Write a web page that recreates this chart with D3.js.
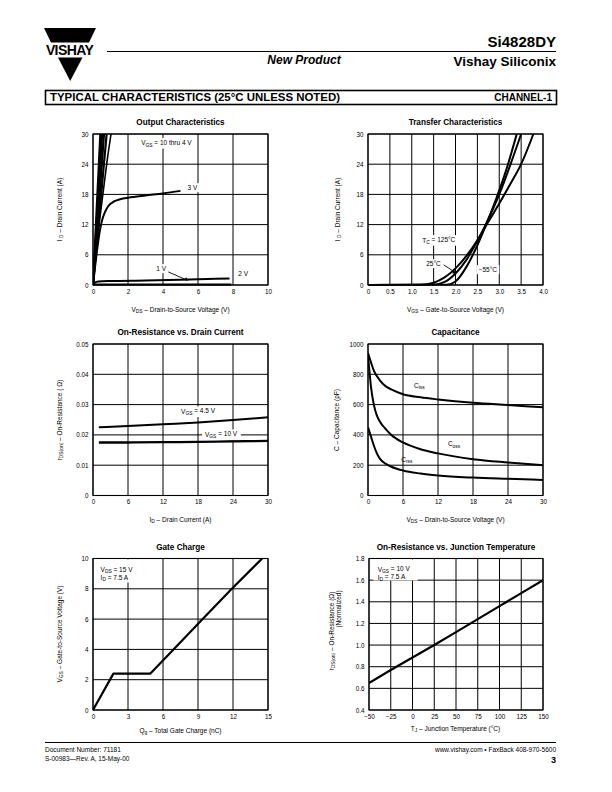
<!DOCTYPE html>
<html><head><meta charset="utf-8">
<script src="https://cdn.jsdelivr.net/npm/d3@7"></script>
<style>
html,body{margin:0;padding:0;background:#fff;}
svg{display:block;font-family:'Liberation Sans',Arial,Helvetica,sans-serif;}
</style></head><body>
<svg id="page" width="612" height="792"></svg>
<script>
// ---------------- DATA ----------------
// Output Characteristics (VDS V, ID A)
const outXTicks = [0, 2, 4, 6, 8, 10];
const outYTicks = [0, 6, 12, 18, 24, 30];
const outVgs10 = [[0, 0], [0.42, 30]];
const outVgs8  = [[0, 0], [0.52, 30]];
const outVgs6  = [[0, 0], [0.63, 30]];
const outVgs5  = [[0, 0], [0.78, 30]];
const outVgs4  = [[0, 0], [0.3, 10.5], [0.6, 19], [0.82, 25], [1.03, 30]];
const outVgs3  = [[0, 0], [0.2, 6], [0.38, 10.5], [0.5, 12.6], [0.7, 14.6], [0.9, 15.8], [1.2, 16.6], [1.6, 17.1], [2, 17.35], [3, 17.8], [4, 18.2], [5, 18.7]];
const outVgs2  = [[0, 0], [0.1, 0.45], [0.3, 0.7], [1, 0.8], [3, 0.9], [5, 1.05], [7.8, 1.3]];
const outVgs1  = [[0, 0.05], [7.9, 0.05]];

// Transfer Characteristics (VGS V, ID A)
const trXTicks = [0, 0.5, 1, 1.5, 2, 2.5, 3, 3.5, 4];
const trXLabels = ["0", "0.5", "1.0", "1.5", "2.0", "2.5", "3.0", "3.5", "4.0"];
const trYTicks = [0, 6, 12, 18, 24, 30];
const tr125 = [[0, 0], [1.2, 0.05], [1.5, 0.45], [1.75, 1.5], [2.0, 3.3], [2.25, 5.8], [2.5, 8.9], [2.7, 11.8], [3.0, 16.2], [3.25, 20], [3.5, 24], [3.78, 30]];
const tr25  = [[0, 0], [1.5, 0.05], [1.75, 0.6], [2.0, 2.3], [2.25, 5], [2.5, 8.8], [2.7, 12.2], [3.0, 18], [3.25, 23.8], [3.5, 30]];
const trM55 = [[0, 0], [1.8, 0.05], [2.0, 0.7], [2.25, 3.6], [2.5, 7.9], [2.7, 12], [3.0, 18.8], [3.2, 24], [3.4, 30]];

// On-Resistance vs. Drain Current (ID A, rDS ohm)
const orXTicks = [0, 6, 12, 18, 24, 30];
const orYTicks = [0, 0.01, 0.02, 0.03, 0.04, 0.05];
const orYLabels = ["0", "0.01", "0.02", "0.03", "0.04", "0.05"];
const orVgs45 = [[1, 0.0225], [6, 0.0229], [12, 0.0235], [18, 0.0241], [24, 0.0249], [30, 0.0258]];
const orVgs10 = [[1, 0.0175], [6, 0.0175], [12, 0.0176], [18, 0.0177], [24, 0.0179], [30, 0.018]];

// Capacitance (VDS V, C pF)
const capXTicks = [0, 6, 12, 18, 24, 30];
const capYTicks = [0, 200, 400, 600, 800, 1000];
const capCiss = [[0, 940], [0.5, 880], [1, 825], [2, 762], [3, 722], [4, 700], [6, 668], [9, 648], [12, 634], [18, 612], [24, 597], [30, 582]];
const capCoss = [[0, 920], [0.25, 820], [0.5, 720], [1, 600], [1.5, 530], [2, 490], [3, 440], [4, 400], [6, 350], [9, 305], [12, 278], [18, 240], [24, 218], [30, 200]];
const capCrss = [[0, 450], [0.5, 390], [1, 330], [1.5, 280], [2, 245], [3, 210], [4, 190], [6, 165], [9, 145], [12, 132], [18, 118], [24, 110], [30, 103]];

// Gate Charge (Qg nC, VGS V)
const gcXTicks = [0, 3, 6, 9, 12, 15];
const gcYTicks = [0, 2, 4, 6, 8, 10];
const gcCurve = [[0, 0], [1.75, 2.4], [4.9, 2.4], [6.9, 4], [9.4, 6], [11.9, 8], [14.5, 10]];

// On-Resistance vs. Junction Temperature (TJ C, normalized)
const tjXTicks = [-50, -25, 0, 25, 50, 75, 100, 125, 150];
const tjXLabels = ["\u221250", "\u221225", "0", "25", "50", "75", "100", "125", "150"];
const tjYTicks = [0.4, 0.6, 0.8, 1.0, 1.2, 1.4, 1.6, 1.8];
const tjYLabels = ["0.4", "0.6", "0.8", "1.0", "1.2", "1.4", "1.6", "1.8"];
const tjCurve = [[-50, 0.65], [-25, 0.77], [0, 0.885], [25, 1.0], [50, 1.12], [75, 1.24], [100, 1.36], [125, 1.48], [150, 1.6]];

// ---------------- DRAWING ----------------
const svg = d3.select('#page');
svg.append('rect').attr('width', 612).attr('height', 792).attr('fill', '#fff');

// rich text helper: parts = [[text, 'sub'?], ...]
function rich(parent, x, y, parts, o = {}) {
  const t = parent.append('text').attr('x', x).attr('y', y)
    .attr('font-size', o.size || 6.5).attr('text-anchor', o.anchor || 'start')
    .attr('fill', '#000');
  if (o.weight) t.attr('font-weight', o.weight);
  if (o.rotate) t.attr('transform', `rotate(-90,${x},${y})`);
  let sub = false;
  parts.forEach(p => {
    const s = t.append('tspan').text(p[0]);
    const isSub = p[1] === 'sub';
    if (isSub && !sub) s.attr('dy', '0.25em');
    if (!isSub && sub) s.attr('dy', '-0.25em');
    if (isSub) s.attr('font-size', '0.75em');
    sub = isSub;
  });
  if (o.box) {
    const b = t.node().getBBox();
    parent.insert('rect', () => t.node())
      .attr('x', b.x - o.box).attr('y', b.y - 1).attr('width', b.width + 2 * o.box)
      .attr('height', b.height + 2).attr('fill', '#fff');
  }
  return t;
}

let clipId = 0;
function chart(c) {
  const x = d3.scaleLinear().domain(c.xDomain).range([c.x0, c.x1]);
  const y = d3.scaleLinear().domain(c.yDomain).range([c.y1, c.y0]);
  const g = svg.append('g');
  // grid
  g.append('g').selectAll('line').data(c.xTicks).join('line')
    .attr('x1', d => x(d)).attr('x2', d => x(d)).attr('y1', c.y0).attr('y2', c.y1)
    .attr('stroke', '#000').attr('stroke-width', 1);
  g.append('g').selectAll('line').data(c.yTicks).join('line')
    .attr('y1', d => y(d)).attr('y2', d => y(d)).attr('x1', c.x0).attr('x2', c.x1)
    .attr('stroke', '#000').attr('stroke-width', 1);
  g.append('rect').attr('x', c.x0).attr('y', c.y0).attr('width', c.x1 - c.x0).attr('height', c.y1 - c.y0)
    .attr('fill', 'none').attr('stroke', '#000').attr('stroke-width', 1.1);
  // axes (labels only)
  const xa = d3.axisBottom(x).tickValues(c.xTicks).tickSize(0).tickPadding(4.5)
    .tickFormat((d, i) => c.xLabels ? c.xLabels[i] : d3.format('')(d));
  const ya = d3.axisLeft(y).tickValues(c.yTicks).tickSize(0).tickPadding(4.5)
    .tickFormat((d, i) => c.yLabels ? c.yLabels[i] : d3.format('')(d));
  const gx = g.append('g').attr('transform', `translate(0,${c.y1})`).call(xa);
  const gy = g.append('g').attr('transform', `translate(${c.x0},0)`).call(ya);
  [gx, gy].forEach(a => {
    a.select('.domain').remove();
    a.attr('font-family', null).attr('font-size', 6.3);
    a.selectAll('text').attr('fill', '#000');
  });
  // title
  g.append('text').attr('x', (c.x0 + c.x1) / 2).attr('y', c.y0 - 9)
    .attr('text-anchor', 'middle').attr('font-weight', 'bold').attr('font-size', 8.2)
    .attr('fill', '#000').text(c.title);
  // curves
  const id = 'clip' + (clipId++);
  g.append('clipPath').attr('id', id).append('rect')
    .attr('x', c.x0).attr('y', c.y0 - 0.5).attr('width', c.x1 - c.x0).attr('height', c.y1 - c.y0 + 1);
  const cg = g.append('g').attr('clip-path', `url(#${id})`);
  c.series.forEach(s => {
    const line = d3.line().x(d => x(d[0])).y(d => y(d[1]))
      .curve(s.curve || d3.curveMonotoneX);
    cg.append('path').attr('d', line(s.data)).attr('fill', 'none')
      .attr('stroke', '#000').attr('stroke-width', s.w || 2).attr('stroke-linejoin', 'round');
  });
  c.x = x; c.y = y; c.g = g;
  return c;
}

const L = [93, 268], R = [368, 543];
const rows = [[134, 285], [344, 495.5], [558.5, 710]];

// ---- Output Characteristics ----
const c1 = chart({x0: L[0], x1: L[1], y0: rows[0][0], y1: rows[0][1], xDomain: [0, 10], yDomain: [0, 30],
  xTicks: outXTicks, yTicks: outYTicks, title: 'Output Characteristics',
  series: [
    {data: outVgs10, curve: d3.curveLinear, w: 2.2},
    {data: outVgs8, curve: d3.curveLinear, w: 2.2},
    {data: outVgs6, curve: d3.curveLinear, w: 2.2},
    {data: outVgs5, curve: d3.curveLinear, w: 2.2},
    {data: outVgs4, w: 1.6},
    {data: outVgs3, w: 2},
    {data: outVgs2, w: 2},
    {data: outVgs1, curve: d3.curveLinear, w: 2.4}
  ]});
rich(c1.g, c1.x(2.75), c1.y(28.2) + 2.3, [['V'], ['GS', 'sub'], [' = 10 thru 4 V']], {box: 2});
rich(c1.g, c1.x(5.4), c1.y(19.3) + 2.3, [['3 V']], {box: 2});
rich(c1.g, c1.x(3.62), c1.y(3.2) + 2.3, [['1 V']], {box: 1.5});
rich(c1.g, c1.x(8.3), c1.y(2.2) + 2.3, [['2 V']], {box: 2});
c1.g.append('line').attr('x1', c1.x(4.3)).attr('y1', c1.y(2.6)).attr('x2', c1.x(5.35)).attr('y2', c1.y(1.0))
  .attr('stroke', '#000').attr('stroke-width', 0.9);
c1.g.append('path').attr('d', `M${c1.x(5.45)},${c1.y(0.85)} l-4.2,-0.6 l2,-2.8 z`).attr('fill', '#000');
rich(svg, 180.5, 312, [['V'], ['DS', 'sub'], ['  \u2013  Drain-to-Source Voltage (V)']], {anchor: 'middle'});
rich(svg, 62, 209.5, [['I'], [' D', 'sub'], ['  \u2013  Drain Current (A)']], {anchor: 'middle', rotate: true});

// ---- Transfer Characteristics ----
const c2 = chart({x0: R[0], x1: R[1], y0: rows[0][0], y1: rows[0][1], xDomain: [0, 4], yDomain: [0, 30],
  xTicks: trXTicks, xLabels: trXLabels, yTicks: trYTicks, title: 'Transfer Characteristics',
  series: [{data: tr125}, {data: tr25}, {data: trM55}]});
rich(c2.g, c2.x(1.24), c2.y(8.9) + 2.3, [['T'], ['C', 'sub'], [' = 125\u00B0C']], {box: 2});
rich(c2.g, c2.x(1.33), c2.y(4.2) + 2.3, [['25\u00B0C']], {box: 2});
rich(c2.g, c2.x(2.53), c2.y(3.0) + 2.3, [['\u221255\u00B0C']], {box: 2});
c2.g.append('line').attr('x1', c2.x(1.73)).attr('y1', c2.y(4.0)).attr('x2', c2.x(1.96)).attr('y2', c2.y(2.7))
  .attr('stroke', '#000').attr('stroke-width', 0.9);
c2.g.append('path').attr('d', `M${c2.x(2.02)},${c2.y(2.35)} l-4.3,0.3 l1.9,-3.4 z`).attr('fill', '#000');
rich(svg, 455.5, 312, [['V'], ['GS', 'sub'], ['  \u2013  Gate-to-Source Voltage (V)']], {anchor: 'middle'});
rich(svg, 340, 209.5, [['I'], [' D', 'sub'], ['  \u2013  Drain Current (A)']], {anchor: 'middle', rotate: true});

// ---- On-Resistance vs. Drain Current ----
const c3 = chart({x0: L[0], x1: L[1], y0: rows[1][0], y1: rows[1][1], xDomain: [0, 30], yDomain: [0, 0.05],
  xTicks: orXTicks, yTicks: orYTicks, yLabels: orYLabels, title: 'On-Resistance vs. Drain Current',
  series: [{data: orVgs45}, {data: orVgs10, w: 2.3}]});
rich(c3.g, c3.x(15.1), c3.y(0.0277) + 2.3, [['V'], ['GS', 'sub'], [' = 4.5 V']], {box: 2.5});
rich(c3.g, c3.x(19.2), c3.y(0.0201) + 2.3, [['V'], ['GS', 'sub'], [' = 10 V']], {box: 3});
rich(svg, 180.5, 522, [['I'], ['D', 'sub'], ['  \u2013  Drain Current (A)']], {anchor: 'middle'});
rich(svg, 62, 420, [['r'], ['DS(on)', 'sub'], ['  \u2013  On-Resistance ( \u03A9)']], {anchor: 'middle', rotate: true});

// ---- Capacitance ----
const c4 = chart({x0: R[0], x1: R[1], y0: rows[1][0], y1: rows[1][1], xDomain: [0, 30], yDomain: [0, 1000],
  xTicks: capXTicks, yTicks: capYTicks, title: 'Capacitance',
  series: [{data: capCiss}, {data: capCoss}, {data: capCrss}]});
rich(c4.g, c4.x(7.9), c4.y(725) + 2.3, [['C'], ['iss', 'sub']], {});
rich(c4.g, c4.x(13.7), c4.y(340) + 2.3, [['C'], ['oss', 'sub']], {});
rich(c4.g, c4.x(5.7), c4.y(236) + 2.3, [['C'], ['rss', 'sub']], {});
rich(svg, 455.5, 522, [['V'], ['DS', 'sub'], ['  \u2013  Drain-to-Source Voltage (V)']], {anchor: 'middle'});
rich(svg, 339, 420, [['C  \u2013  Capacitance (pF)']], {anchor: 'middle', rotate: true});

// ---- Gate Charge ----
const c5 = chart({x0: L[0], x1: L[1], y0: rows[2][0], y1: rows[2][1], xDomain: [0, 15], yDomain: [0, 10],
  xTicks: gcXTicks, yTicks: gcYTicks, title: 'Gate Charge',
  series: [{data: gcCurve, curve: d3.curveLinear, w: 2.2}]});
{
  const t1 = rich(c5.g, c5.x(0.65), c5.y(10) + 13.5, [['V'], ['DS', 'sub'], [' = 15 V']], {});
  rich(c5.g, c5.x(0.65), c5.y(10) + 21.5, [['I'], ['D', 'sub'], [' = 7.5 A']], {});
  c5.g.insert('rect', () => t1.node()).attr('x', c5.x(0.4)).attr('y', c5.y(10) + 1).attr('width', c5.x(3.2) - c5.x(0.4))
    .attr('height', 23).attr('fill', '#fff');
}
rich(svg, 180.5, 733, [['Q'], ['g', 'sub'], ['  \u2013  Total Gate Charge (nC)']], {anchor: 'middle'});
rich(svg, 62, 634, [['V'], ['GS', 'sub'], ['  \u2013  Gate-to-Source Voltage (V)']], {anchor: 'middle', rotate: true});

// ---- On-Resistance vs. Junction Temperature ----
const c6 = chart({x0: R[0] + 1, x1: R[1], y0: rows[2][0], y1: rows[2][1], xDomain: [-50, 150], yDomain: [0.4, 1.8],
  xTicks: tjXTicks, xLabels: tjXLabels, yTicks: tjYTicks, yLabels: tjYLabels,
  title: 'On-Resistance vs. Junction Temperature',
  series: [{data: tjCurve, curve: d3.curveLinear, w: 2.2}]});
{
  const t1 = rich(c6.g, c6.x(-40), c6.y(1.8) + 13, [['V'], ['GS', 'sub'], [' = 10 V']], {});
  rich(c6.g, c6.x(-40), c6.y(1.8) + 21, [['I'], ['D', 'sub'], [' = 7.5 A']], {});
  c6.g.insert('rect', () => t1.node()).attr('x', c6.x(-45)).attr('y', c6.y(1.8) + 1).attr('width', c6.x(6) - c6.x(-45))
    .attr('height', 21).attr('fill', '#fff');
}
rich(svg, 455.5, 731, [['T'], ['J', 'sub'], [' \u2013 Junction Temperature (\u00B0C)']], {anchor: 'middle'});
rich(svg, 334, 631, [['r'], ['DS(on)', 'sub'], ['      \u2013  On-Resistance (\u03A9)']], {anchor: 'middle', rotate: true});
rich(svg, 341, 609, [['(Normalized)']], {anchor: 'middle', rotate: true});

// ---------------- HEADER / FOOTER ----------------
// logo
svg.append('path').attr('d', 'M44,28 L96,28 L89,42.5 L51,42.5 Z').attr('fill', '#000');
svg.append('path').attr('d', 'M58,57.5 L82.5,57.5 L70.2,81 Z').attr('fill', '#000');
svg.append('text').attr('x', 69.5).attr('y', 55).attr('text-anchor', 'middle').attr('font-weight', 'bold')
  .attr('font-size', 14).attr('letter-spacing', -0.6).attr('fill', '#000').text('VISHAY');
svg.append('line').attr('x1', 107).attr('x2', 556).attr('y1', 51.5).attr('y2', 51.5).attr('stroke', '#000').attr('stroke-width', 1);
svg.append('text').attr('x', 556).attr('y', 47).attr('text-anchor', 'end').attr('font-weight', 'bold')
  .attr('font-size', 15).attr('fill', '#000').text('Si4828DY');
svg.append('text').attr('x', 556).attr('y', 66).attr('text-anchor', 'end').attr('font-weight', 'bold')
  .attr('font-size', 13.5).attr('fill', '#000').text('Vishay Siliconix');
svg.append('text').attr('x', 304).attr('y', 64).attr('text-anchor', 'middle').attr('font-weight', 'bold')
  .attr('font-style', 'italic').attr('font-size', 12).attr('fill', '#000').text('New Product');
// section bar
svg.append('rect').attr('x', 45.5).attr('y', 90.5).attr('width', 511).attr('height', 14)
  .attr('fill', '#fff').attr('stroke', '#000').attr('stroke-width', 1.6);
svg.append('text').attr('x', 50).attr('y', 101.3).attr('font-weight', 'bold').attr('font-size', 10)
  .attr('textLength', 290).attr('lengthAdjust', 'spacingAndGlyphs')
  .attr('fill', '#000').text('TYPICAL CHARACTERISTICS (25\u00B0C UNLESS NOTED)');
svg.append('text').attr('x', 552).attr('y', 101.3).attr('text-anchor', 'end').attr('font-weight', 'bold')
  .attr('font-size', 10).attr('fill', '#000').text('CHANNEL-1');
// footer
svg.append('line').attr('x1', 45).attr('x2', 556).attr('y1', 742.5).attr('y2', 742.5).attr('stroke', '#000').attr('stroke-width', 1.2);
svg.append('text').attr('x', 45).attr('y', 752).attr('font-size', 6.5).attr('fill', '#000').text('Document Number:  71181');
svg.append('text').attr('x', 45).attr('y', 761).attr('font-size', 6.5).attr('fill', '#000').text('S-00983\u2014Rev. A, 15-May-00');
svg.append('text').attr('x', 556).attr('y', 752).attr('text-anchor', 'end').attr('font-size', 6.5).attr('fill', '#000').text('www.vishay.com \u2022 FaxBack 408-970-5600');
svg.append('text').attr('x', 556).attr('y', 762.5).attr('text-anchor', 'end').attr('font-weight', 'bold').attr('font-size', 9).attr('fill', '#000').text('3');
</script>
</body></html>
